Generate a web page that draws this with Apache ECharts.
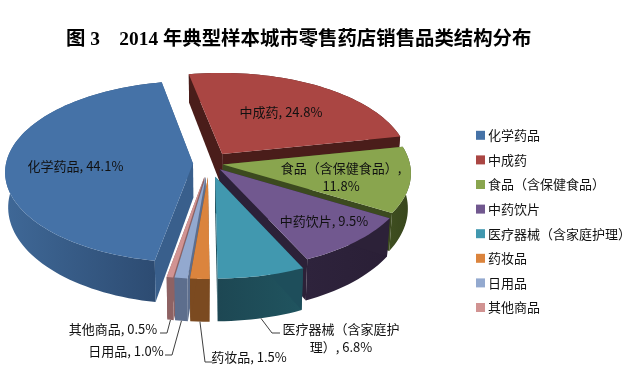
<!DOCTYPE html>
<html>
<head>
<meta charset="utf-8">
<style>
  html, body { margin: 0; padding: 0; background: #fff; }
  #chart { width: 637px; height: 390px; }
</style>
<script src="https://cdn.jsdelivr.net/npm/echarts@6/dist/echarts.min.js"></script>
</head>
<body>
<div id="chart"></div>
<script>
const categories = ["化学药品", "中成药", "食品（含保健食品）", "中药饮片", "医疗器械（含家庭护理）", "药妆品", "日用品", "其他商品"];
const values = [44.1, 24.8, 11.8, 9.5, 6.8, 1.5, 1.0, 0.5];

const topColors = ["#4572a7", "#aa4643", "#89a54e", "#71588f", "#4198af", "#db843d", "#93a9cf", "#d19392"];
const wallColors = ["#395f8c", "#4a1d1a", "#3c4a1f", "#2c2138", "#1e4e5b", "#7b4a20", "#5d6e8d", "#8e6263"];
const outerColors = [
  ["#3f6897", "#2c4a70"], ["#4a1d1a", "#4a1d1a"], ["#3f4e20", "#37451c"], ["#2e233c", "#2a1f36"],
  ["#1d4753", "#20545f"], ["#7b4a20", "#7b4a20"], ["#5d6e8d", "#5d6e8d"], ["#8e6263", "#8e6263"]
];
const explode = [16, 24, 14, 16, 28, 28, 28, 28];

// pie projection
const startAngle = 190.3;
const cx = 209, cy = 163.5, rx = 187, ry = 90, persp = 0.09, depth = 34.4;

// label centre and leader elbow points
const labelAt = [[75.5, 166], [281, 112], [341, 177], [324, 221], [341, 338.5], [249, 357], [126, 351], [113, 329]];
const leaders = [null, null, null, null, [[272, 333], [280, 333]], [[205, 362], [212, 362]], [[172, 355], [165, 355]], [[167, 333], [160, 333]]];
const labelFont = '"Noto Sans CJK SC", "Noto Sans", sans-serif';

const total = values.reduce((a, b) => a + b, 0);
const spans = [];
let acc = startAngle;
values.forEach((v) => {
  const a1 = acc + (v / total) * 360;
  spans.push([acc, a1]);
  acc = a1;
});

const rad = (d) => (d * Math.PI) / 180;

function project(i, r, deg, bottom) {
  const mid = rad((spans[i][0] + spans[i][1]) / 2);
  const e = explode[i] / rx;
  const wx = e * Math.sin(mid) + r * Math.sin(rad(deg));
  const wz = e * Math.cos(mid) + r * Math.cos(rad(deg));
  const f = 1 / (1 + persp * wz);
  const x = rx * wx * f;
  const y = -ry * wz * f;
  if (!bottom) return [cx + x, cy + y];
  return [cx + x * 0.985, cy + y + depth * f * f];
}

function labelText(i) {
  const v = values[i].toFixed(1) + "%";
  if (i === 2) return categories[i] + ",\n" + v;
  if (i === 4) return categories[i].slice(0, 9) + "\n" + categories[i].slice(9) + ", " + v;
  return categories[i] + ", " + v;
}

function renderSlice(params) {
  const i = params.seriesIndex;
  const [a0, a1] = spans[i];
  const steps = Math.max(2, Math.ceil((a1 - a0) / 2));
  const topArc = [], botArc = [];
  for (let s = 0; s <= steps; s++) {
    const d = a0 + ((a1 - a0) * s) / steps;
    topArc.push(project(i, 1, d, false));
    botArc.push(project(i, 1, d, true));
  }
  const apexTop = project(i, 0, 0, false);
  const apexBot = project(i, 0, 0, true);
  const children = [
    {
      type: "polygon",
      shape: { points: topArc.concat(botArc.slice().reverse()) },
      style: {
        fill: new echarts.graphic.LinearGradient(0, 0, 1, 0, [
          { offset: 0, color: outerColors[i][0] },
          { offset: 1, color: outerColors[i][1] },
        ]),
      },
    },
    {
      type: "polygon",
      shape: { points: [apexTop, topArc[0], botArc[0], apexBot] },
      style: { fill: wallColors[i] },
    },
    {
      type: "polygon",
      shape: { points: [apexTop, topArc[steps], botArc[steps], apexBot] },
      style: { fill: wallColors[i] },
    },
    {
      type: "polygon",
      shape: { points: [apexTop].concat(topArc) },
      style: { fill: topColors[i] },
    },
  ];
  if (leaders[i]) {
    const from = project(i, 1, (a0 + a1) / 2, true);
    children.push({
      type: "polyline",
      z2: 50,
      shape: { points: [from].concat(leaders[i]) },
      style: { stroke: "#404040", fill: null, lineWidth: 1 },
    });
  }
  children.push({
    type: "text",
    z2: 100,
    style: {
      text: labelText(i),
      x: labelAt[i][0],
      y: labelAt[i][1],
      align: "center",
      verticalAlign: "middle",
      fill: "#111",
      fontSize: 13,
      lineHeight: 18,
      fontFamily: labelFont,
    },
  });
  return { type: "group", children };
}

// far slices are painted first
const midCos = spans.map((s) => Math.cos(rad((s[0] + s[1]) / 2)));

const chart = echarts.init(document.getElementById("chart"), null, { renderer: "canvas" });
chart.setOption({
  animation: false,
  backgroundColor: "#fff",
  title: {
    text: "图 3    2014 年典型样本城市零售药店销售品类结构分布",
    left: 66,
    top: 30,
    padding: 0,
    textStyle: {
      fontFamily: '"Liberation Serif", "Noto Sans CJK SC", serif',
      fontWeight: "bold",
      fontSize: 19.4,
      color: "#000",
    },
  },
  legend: {
    orient: "vertical",
    left: 476,
    top: 127,
    padding: 0,
    icon: "rect",
    itemWidth: 9,
    itemHeight: 9,
    itemGap: 8,
    selectedMode: false,
    data: categories,
    textStyle: {
      fontFamily: labelFont,
      fontSize: 13,
      color: "#111",
      padding: [0, 0, 0, -2],
      height: 16.6,
      lineHeight: 16.6,
    },
  },
  color: topColors,
  series: categories.map((name, i) => ({
    type: "custom",
    name,
    coordinateSystem: "none",
    silent: true,
    z: 10 - midCos[i] * 5,
    data: [values[i]],
    renderItem: renderSlice,
  })),
});
</script>
</body>
</html>
